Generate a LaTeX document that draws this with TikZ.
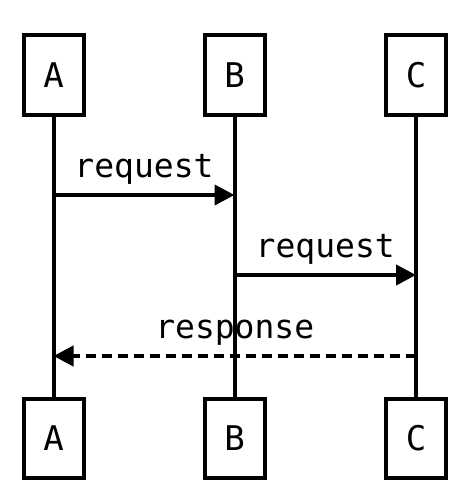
\documentclass[tikz,border=0pt]{standalone}
\usepackage{fontspec}
\setmonofont{DejaVu Sans Mono}
\usetikzlibrary{arrows.meta}

\begin{document}
\begin{tikzpicture}[x=1pt,y=1pt,>={Triangle[length=20pt,width=20pt]},
	actor/.style={draw, line width=4pt, minimum width=60pt, minimum height=79pt, inner sep=0pt, font=\ttfamily\fontsize{34}{38}\selectfont},
	msg/.style={line width=4pt},
	lbl/.style={anchor=base, yshift=18pt, inner sep=0pt, font=\ttfamily\fontsize{33}{38}\selectfont}]
	\useasboundingbox (0,0) rectangle (466,-503);
	% actors at the top
	\node[actor] (aTop) at (53.5,-75) {A}; \node[actor] (bTop) at (234.5,-75) {B}; \node[actor] (cTop) at (416,-75) {C};
	% actors at the bottom
	\node[actor] (aBot) at (53.5,-438) {A}; \node[actor] (bBot) at (234.5,-438) {B}; \node[actor] (cBot) at (416,-438) {C};
	% lifelines
	\draw[msg] (aTop.south) -- (aBot.north); \draw[msg] (bTop.south) -- (bBot.north); \draw[msg] (cTop.south) -- (cBot.north);
	% message points
	\coordinate (a1) at (53.5,-195); \coordinate (b1) at (234.5,-195);
	\coordinate (b2) at (234.5,-275); \coordinate (c2) at (416,-275);
	\coordinate (c3) at (416,-356); \coordinate (a3) at (53.5,-356);
	% messages
	\draw[msg,->] (a1) -- node[lbl] (req1) {request} (b1);
	\draw[msg,->] (b2) -- node[lbl] (req2) {request} (c2);
	\draw[msg,->,dash pattern=on 10pt off 6pt] (c3) -- node[lbl] (resp) {response} (a3);
\end{tikzpicture}
\end{document}
